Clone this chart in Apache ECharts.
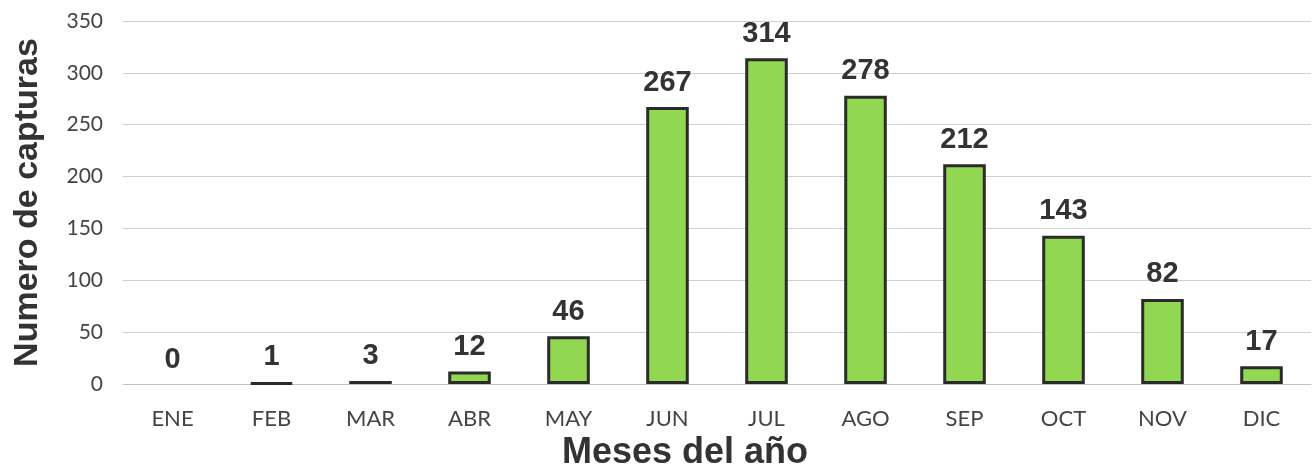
<!DOCTYPE html>
<html><head><meta charset="utf-8">
<script src="https://cdn.jsdelivr.net/npm/echarts@6/dist/echarts.min.js"></script>
<style>html,body{margin:0;padding:0;background:#fff}#c{width:1315px;height:467px}</style>
</head><body><div id="c"></div>
<script>
const months = ['ENE','FEB','MAR','ABR','MAY','JUN','JUL','AGO','SEP','OCT','NOV','DIC'];
const capturas = [0,1,3,12,46,267,314,278,212,143,82,17];
const yTicks = {min:0, max:350, interval:50};
const seriesData = capturas.map(v => v === 0 ? {value:v, itemStyle:{borderWidth:0}} : v);
const chart = echarts.init(document.getElementById('c'));
chart.setOption({
  animation:false,
  grid:{left:123,right:4,top:21,bottom:83,containLabel:false,outerBoundsMode:'none'},
  xAxis:{type:'category',data:months,
    axisLine:{show:true,lineStyle:{color:'#b9c3cc',width:1}},
    axisTick:{show:false},
    axisLabel:{color:'#444',fontSize:22,fontFamily:'Lato',margin:24},
    name:'Meses del año',nameLocation:'middle',nameGap:35,
    nameTextStyle:{fontSize:36,fontWeight:'bold',color:'#333',fontFamily:'Liberation Sans',padding:[0,64,0,0]}
  },
  yAxis:{type:'value',min:yTicks.min,max:yTicks.max,interval:yTicks.interval,
    axisLine:{show:false},axisTick:{show:false},
    splitLine:{lineStyle:{color:'#c9d0d6',width:1}},
    axisLabel:{color:'#444',fontSize:21,fontFamily:'Lato',margin:20},
    name:'Numero de capturas',nameLocation:'middle',nameGap:78,
    nameTextStyle:{fontSize:34,fontWeight:'bold',color:'#333',fontFamily:'Liberation Sans'}
  },
  series:[{type:'bar',data:seriesData,barWidth:'43%',
    itemStyle:{color:'#92d752',borderColor:'#2b2b2b',borderWidth:3},
    label:{show:true,position:'top',distance:10,fontSize:29,fontWeight:'bold',color:'#333',fontFamily:'Liberation Sans'}
  }]
});
</script></body></html>
